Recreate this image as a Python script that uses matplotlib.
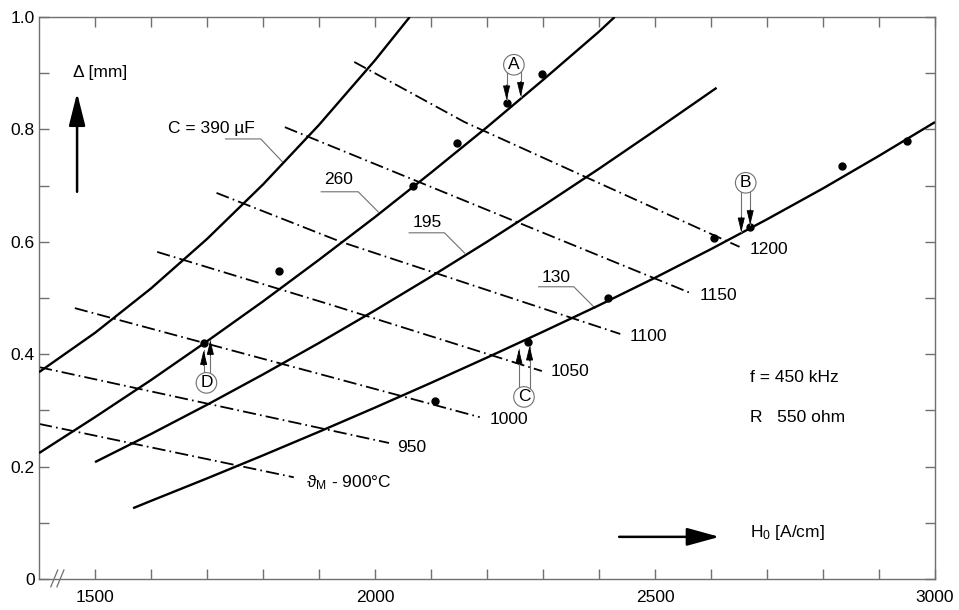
# skin depth vs. field strength, with isotherm lines
import numpy as np
import matplotlib
matplotlib.use("Agg")
import matplotlib.pyplot as plt

plt.rcParams['font.family'] = ['Liberation Sans', 'DejaVu Sans']
plt.rcParams['mathtext.fontset'] = 'custom'
plt.rcParams['mathtext.rm'] = 'Liberation Sans'
plt.rcParams['mathtext.it'] = 'Liberation Sans:italic'
plt.rcParams['lines.scale_dashes'] = False

# capacitance curves (H0 in A/cm, delta in mm)
h_390 = [1400, 1500, 1600, 1700, 1800, 1900, 2000, 2062]
d_390 = [0.368, 0.438, 0.517, 0.605, 0.702, 0.808, 0.923, 1.0]
h_260 = [1400, 1500, 1600, 1700, 1800, 1900, 2000, 2100, 2200, 2300, 2400, 2428]
d_260 = [0.224, 0.288, 0.354, 0.423, 0.494, 0.568, 0.644, 0.723, 0.804, 0.888, 0.974, 1.0]
h_195 = [1500, 1600, 1700, 1800, 1900, 2000, 2100, 2200, 2300, 2400, 2500, 2610]
d_195 = [0.208, 0.258, 0.310, 0.364, 0.420, 0.478, 0.538, 0.600, 0.664, 0.730, 0.798, 0.874]
h_130 = [1568, 1600, 1700, 1800, 1900, 2000, 2100, 2200, 2300, 2400, 2500, 2600, 2700, 2800, 2900, 3000]
d_130 = [0.126, 0.139, 0.179, 0.220, 0.262, 0.305, 0.349, 0.394, 0.440, 0.487, 0.536, 0.587, 0.640, 0.695, 0.753, 0.813]

# isotherms (temperature in degC)
h_900 = [1400, 1855]
d_900 = [0.276, 0.181]
h_950 = [1400, 2025]
d_950 = [0.377, 0.242]
h_1000 = [1464, 2187]
d_1000 = [0.482, 0.288]
h_1050 = [1611, 1921, 2298]
d_1050 = [0.582, 0.488, 0.370]
h_1100 = [1717, 1939, 2438]
d_1100 = [0.687, 0.600, 0.436]
h_1150 = [1839, 2563]
d_1150 = [0.804, 0.509]
h_1200 = [1963, 2160, 2651]
d_1200 = [0.920, 0.813, 0.591]

# measured points
dot_h = [1694, 1828, 2067, 2147, 2235, 2298, 2108, 2274, 2416, 2606, 2670, 2834, 2950]
dot_d = [0.420, 0.548, 0.699, 0.776, 0.847, 0.899, 0.317, 0.422, 0.500, 0.607, 0.626, 0.735, 0.779]

x_ticks = list(range(1500, 3001, 100))
x_labels = [str(v) if v % 500 == 0 else '' for v in x_ticks]
y_ticks = [i / 10 for i in range(11)]
y_labels = ['0', '', '0.2', '', '0.4', '', '0.6', '', '0.8', '', '1.0']

fig = plt.figure(figsize=(9.59, 6.10), dpi=100)
ax = fig.add_axes([39 / 959, 31 / 610, 896 / 959, 562 / 610])
ax.set_xlim(1400, 3000)
ax.set_ylim(0, 1.0)

grey = '#707070'
for s in ax.spines.values():
    s.set_color(grey)
    s.set_linewidth(1.0)
ax.set_xticks(x_ticks)
ax.set_xticklabels(x_labels)
ax.set_yticks(y_ticks)
ax.set_yticklabels(y_labels)
ax.tick_params(direction='in', length=7, width=1.0, color=grey, labelsize=12.5,
               top=True, right=True)
ax.tick_params(axis='x', pad=8)
ax.tick_params(axis='y', pad=3)

# capacitance curves
for h, d in [(h_390, d_390), (h_260, d_260), (h_195, d_195), (h_130, d_130)]:
    ax.plot(h, d, color='black', lw=1.7, solid_capstyle='butt',
            solid_joinstyle='round', zorder=3)

# isotherms
dashdot = (0, (9.5, 3.0, 1.2, 3.0))
isotherms = [(h_900, d_900, r'$\mathrm{\vartheta}_\mathrm{M}$ - 900°C', (9, -4)),
             (h_950, d_950, '950', (6, -3)),
             (h_1000, d_1000, '1000', (7, -2)),
             (h_1050, d_1050, '1050', (6, 0)),
             (h_1100, d_1100, '1100', (7, -2)),
             (h_1150, d_1150, '1150', (7, -2)),
             (h_1200, d_1200, '1200', (7, -2))]
for h, d, lab, off in isotherms:
    ax.plot(h, d, color='black', lw=1.3, linestyle=dashdot, zorder=2)
    ax.annotate(lab, xy=(h[-1], d[-1]), xytext=off, textcoords='offset points',
                ha='left', va='center', fontsize=12.5)

ax.plot(dot_h, dot_d, 'o', color='black', markersize=5, zorder=4)

# curve labels with leader lines
curve_labels = [('C = 390 µF', (1631, 0.801), [1733, 1796, 1835], [0.783, 0.783, 0.742]),
                ('260', (1909, 0.710), [1904, 1970, 2006], [0.689, 0.689, 0.653]),
                ('195', (2068, 0.635), [2061, 2124, 2160], [0.616, 0.616, 0.580]),
                ('130', (2298, 0.537), [2292, 2355, 2393], [0.520, 0.520, 0.482])]
for lab, pos, lx, ly in curve_labels:
    ax.text(pos[0], pos[1], lab, ha='left', va='center', fontsize=12.5)
    ax.plot(lx, ly, color=grey, lw=0.8, zorder=2)

# marked pairs A-D: circle, two thin lines with arrowheads
marks = [('A', (2248, 0.915), [2235, 2260], [0.852, 0.858]),
         ('B', (2662, 0.705), [2654, 2670], [0.617, 0.630]),
         ('C', (2266, 0.324), [2257, 2276], [0.409, 0.415]),
         ('D', (1699, 0.349), [1694, 1706], [0.407, 0.425])]
for lab, c, xs, tips in marks:
    for x, t in zip(xs, tips):
        ax.plot([x, x], [c[1], t], color=grey, lw=0.8, zorder=5)
        up = 1 if t < c[1] else -1
        ax.annotate('', xy=(x, t), xytext=(0, 11 * up), textcoords='offset points',
                    arrowprops=dict(arrowstyle='-|>,head_length=0.9,head_width=0.22',
                                    color='black', lw=0.6, shrinkA=0, shrinkB=0,
                                    mutation_scale=10), zorder=6)
    ax.text(c[0], c[1], lab, ha='center', va='center', fontsize=12.5, zorder=7,
            bbox=dict(boxstyle='circle,pad=0.16', fc='white', ec=grey, lw=0.8))

# axis arrows and titles
ax.annotate('', xy=(1468, 0.865), xytext=(1468, 0.689),
            arrowprops=dict(arrowstyle='-|>,head_length=2.0,head_width=0.5',
                            color='black', lw=1.8, shrinkA=0, shrinkB=0, mutation_scale=10))
ax.text(1461, 0.902, 'Δ [mm]', ha='left', va='center', fontsize=12.5)
ax.annotate('', xy=(2615, 0.075), xytext=(2436, 0.075),
            arrowprops=dict(arrowstyle='-|>,head_length=2.0,head_width=0.55',
                            color='black', lw=1.8, shrinkA=0, shrinkB=0, mutation_scale=10))
ax.text(2670, 0.082, r'H$_\mathrm{0}$ [A/cm]', ha='left', va='center', fontsize=12.5)

ax.text(2670, 0.358, 'f = 450 kHz', ha='left', va='center', fontsize=12.5)
ax.text(2670, 0.288, 'R   550 ohm', ha='left', va='center', fontsize=12.5)

# axis break mark
for x0 in (1421, 1432):
    ax.plot([x0, x0 + 12.5], [-0.014, 0.016], color=grey, lw=0.9, clip_on=False)

fig.savefig('out.png', dpi=100)
